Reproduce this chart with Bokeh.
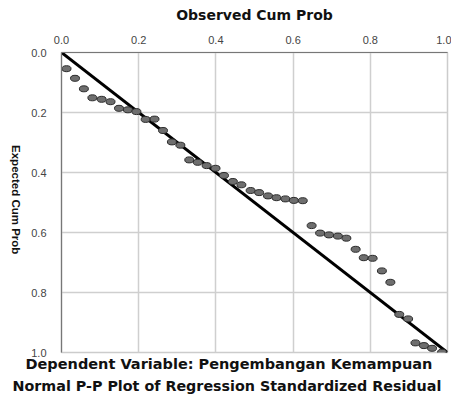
from bokeh.plotting import figure
from bokeh.models import Range1d, FixedTicker, NumeralTickFormatter, Title
from bokeh.layouts import row, column
from bokeh.core.properties import value
from bokeh.embed import file_html
from bokeh.resources import INLINE
import math

# Observed / expected cumulative probabilities
observed = [0.013, 0.035, 0.058, 0.080, 0.104, 0.127, 0.149, 0.172, 0.194, 0.218,
            0.241, 0.263, 0.286, 0.308, 0.331, 0.353, 0.376, 0.399, 0.421, 0.444,
            0.466, 0.490, 0.512, 0.535, 0.557, 0.580, 0.602, 0.625, 0.648, 0.670,
            0.693, 0.716, 0.738, 0.762, 0.783, 0.806, 0.830, 0.852, 0.875, 0.898,
            0.917, 0.939, 0.960, 0.986]
expected = [0.054, 0.086, 0.121, 0.151, 0.156, 0.164, 0.186, 0.191, 0.197, 0.223,
            0.222, 0.260, 0.298, 0.309, 0.358, 0.366, 0.377, 0.386, 0.410, 0.430,
            0.441, 0.460, 0.467, 0.478, 0.484, 0.488, 0.493, 0.494, 0.577, 0.602,
            0.608, 0.612, 0.619, 0.656, 0.684, 0.686, 0.728, 0.766, 0.873, 0.888,
            0.968, 0.977, 0.986, 0.999]
diag_x = [0.0, 1.0]
diag_y = [0.0, 1.0]
ticks = [0.0, 0.2, 0.4, 0.6, 0.8, 1.0]

x_title = "Observed Cum Prob"
y_title = "Expected Cum Prob"
subtitle = "Dependent Variable: Pengembangan Kemampuan"
title = "Normal P-P Plot of Regression Standardized Residual"

TOP_H = 373
STRIP_W = 24

# ---------- main plot ----------
p = figure(width=451 - STRIP_W, height=TOP_H, output_backend="svg", toolbar_location=None,
           x_range=Range1d(0, 1), y_range=Range1d(1, 0),
           x_axis_location="above", min_border_left=61 - STRIP_W, min_border_right=4,
           min_border_top=52, min_border_bottom=TOP_H - 352)

p.background_fill_color = "white"
p.border_fill_color = "white"
p.outline_line_color = "#cccccc"
p.outline_line_width = 1.5

for ax in (p.xaxis[0], p.yaxis[0]):
    ax.ticker = FixedTicker(ticks=ticks)
    ax.formatter = NumeralTickFormatter(format="0.0")
    ax.major_tick_line_color = None
    ax.minor_tick_line_color = None
    ax.axis_line_color = "#777777"
    ax.axis_line_width = 1.2
    ax.major_label_text_font = "Liberation Sans"
    ax.major_label_text_font_size = "11px"
    ax.major_label_text_color = "#444444"

xa = p.xaxis[0]
xa.major_label_standoff = 3
xa.axis_label = x_title
xa.axis_label_standoff = 10
xa.axis_label_text_font = "DejaVu Sans"
xa.axis_label_text_font_style = "bold"
xa.axis_label_text_font_size = "14px"
xa.axis_label_text_color = "#111111"

p.yaxis[0].major_label_standoff = 9

p.xgrid.ticker = FixedTicker(ticks=ticks)
p.ygrid.ticker = FixedTicker(ticks=ticks)
p.grid.grid_line_color = "#cfcfcf"
p.grid.grid_line_width = 1.5

p.line(diag_x, diag_y, line_color="black", line_width=3)
p.ellipse(observed, expected, width=9, height=6,
          width_units="screen", height_units="screen",
          fill_color="#6e6e6e", line_color="#2a2a2a", line_width=1)

p.add_layout(Title(text=subtitle, align="left", offset=25 - 61, standoff=2,
                   text_font="DejaVu Sans", text_font_style="bold",
                   text_font_size="14.5px", text_color="#111111"), "below")

# ---------- left strip carrying the y title (reads top to bottom) ----------
strip = figure(width=STRIP_W, height=TOP_H, output_backend="svg", toolbar_location=None,
               x_range=Range1d(0, 1), y_range=Range1d(1, 0),
               x_axis_location=None, y_axis_location=None,
               min_border=0, min_border_left=0, min_border_right=0,
               min_border_top=0, min_border_bottom=0)
strip.outline_line_color = None
strip.grid.visible = False
strip.text(x=[15 / STRIP_W], y=[183 / TOP_H], text=[y_title], angle=-math.pi / 2,
           text_align="center", text_baseline="middle",
           text_font=value("Liberation Sans"), text_font_style="bold",
           text_font_size="11.5px", text_color="#111111")

# ---------- bottom strip carrying the main title ----------
BOT_H = 394 - TOP_H
bottom = figure(width=451, height=BOT_H, output_backend="svg", toolbar_location=None,
                x_range=Range1d(0, 1), y_range=Range1d(1, 0),
                x_axis_location=None, y_axis_location=None,
                min_border=0, min_border_left=0, min_border_right=0,
                min_border_top=0, min_border_bottom=0)
bottom.outline_line_color = None
bottom.grid.visible = False
bottom.text(x=[12 / 451], y=[(385 - TOP_H) / BOT_H], text=[title],
            text_align="left", text_baseline="middle",
            text_font=value("DejaVu Sans"), text_font_style="bold",
            text_font_size="14.3px", text_color="#111111")

layout = column(row(strip, p, spacing=0), bottom, spacing=0)

open("out.html", "w").write(file_html(layout, INLINE))
